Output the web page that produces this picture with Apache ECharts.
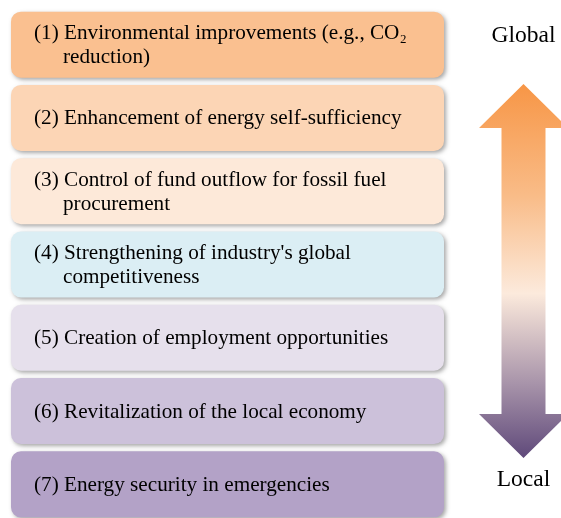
<!DOCTYPE html>
<html>
<head>
<meta charset="utf-8">
<script src="https://cdn.jsdelivr.net/npm/echarts@6/dist/echarts.min.js"></script>
<style>
  html, body { margin: 0; padding: 0; background: #fff; }
  #chart { width: 561px; height: 518px; }
</style>
</head>
<body>
<div id="chart"></div>
<script>
// items, top (global) to bottom (local)
var items = [
  '(1) Environmental improvements (e.g., CO\u2082\nreduction)',
  '(2) Enhancement of energy self-sufficiency',
  '(3) Control of fund outflow for fossil fuel\nprocurement',
  "(4) Strengthening of industry's global\ncompetitiveness",
  '(5) Creation of employment opportunities',
  '(6) Revitalization of the local economy',
  '(7) Energy security in emergencies'
];
var levels = [1, 1, 1, 1, 1, 1, 1];
var boxColors = ['#FAC090', '#FCD5B5', '#FDE9D9', '#DBEEF4', '#E6E0EC', '#CCC1DA', '#B3A2C7'];
var ends = ['Global', 'Local'];

var serif = '"Liberation Serif", "Times New Roman", "DejaVu Serif", serif';

var chartDom = document.getElementById('chart');
var myChart = echarts.init(chartDom);

function arrowItem(params, api) {
  var top = api.coord([0.5, 0]);
  var bottom = api.coord([0.5, 1]);
  var cx = top[0];
  var tipTop = top[1] + 48;
  var baseTop = tipTop + 44;
  var tipBottom = bottom[1] - 22;
  var baseBottom = tipBottom - 44;
  var head = 44.5, shaft = 22;
  return {
    type: 'group',
    children: [
      {
        type: 'polygon',
        shape: {
          points: [
            [cx, tipTop], [cx + head, baseTop], [cx + shaft, baseTop],
            [cx + shaft, baseBottom], [cx + head, baseBottom], [cx, tipBottom],
            [cx - head, baseBottom], [cx - shaft, baseBottom], [cx - shaft, baseTop],
            [cx - head, baseTop]
          ]
        },
        style: {
          fill: new echarts.graphic.LinearGradient(0, 0, 0, 1, [
            { offset: 0, color: '#F79646' },
            { offset: 0.3, color: '#F9BC88' },
            { offset: 0.56, color: '#FCEADC' },
            { offset: 0.8, color: '#A894AA' },
            { offset: 1, color: '#5F497A' }
          ])
        }
      },
      {
        type: 'text',
        style: {
          text: ends[0], x: cx, y: top[1],
          fill: '#000', fontFamily: serif, fontSize: 23.5,
          align: 'center', verticalAlign: 'middle'
        }
      },
      {
        type: 'text',
        style: {
          text: ends[1], x: cx, y: bottom[1],
          fill: '#000', fontFamily: serif, fontSize: 23.5,
          align: 'center', verticalAlign: 'middle'
        }
      }
    ]
  };
}

var option = {
  animation: false,
  backgroundColor: '#fff',
  grid: [
    { left: 11, width: 433, top: 8, height: 513, containLabel: false, outerBoundsMode: 'none' },
    { left: 486, width: 75, top: 36, height: 444, containLabel: false, outerBoundsMode: 'none' }
  ],
  xAxis: [
    { type: 'value', gridIndex: 0, min: 0, max: 1, show: false },
    { type: 'value', gridIndex: 1, min: 0, max: 1, show: false }
  ],
  yAxis: [
    { type: 'category', gridIndex: 0, inverse: true, data: items, show: false },
    { type: 'value', gridIndex: 1, min: 0, max: 1, inverse: true, show: false }
  ],
  series: [
    {
      type: 'bar',
      xAxisIndex: 0,
      yAxisIndex: 0,
      barWidth: 66,
      data: levels.map(function (v, i) {
        return {
          value: v,
          itemStyle: { color: boxColors[i] }
        };
      }),
      itemStyle: {
        borderRadius: 10,
        shadowColor: 'rgba(0,0,0,0.35)',
        shadowBlur: 4,
        shadowOffsetX: 2,
        shadowOffsetY: 2
      },
      label: {
        show: true,
        position: 'insideLeft',
        distance: 23,
        offset: [0, 1],
        formatter: function (p) {
          var lines = items[p.dataIndex].split('\n');
          return lines.map(function (l, k) {
            return (k === 0 ? '{a|' : '{b|') + l + '}';
          }).join('\n');
        },
        rich: {
          a: { fontFamily: serif, fontSize: 21.2, color: '#000', lineHeight: 24 },
          b: { fontFamily: serif, fontSize: 21.2, color: '#000', lineHeight: 24, padding: [0, 0, 0, 29] }
        }
      }
    },
    {
      type: 'custom',
      xAxisIndex: 1,
      yAxisIndex: 1,
      renderItem: arrowItem,
      clip: false,
      data: [[0, 1]]
    }
  ]
};

myChart.setOption(option, true);
</script>
</body>
</html>
